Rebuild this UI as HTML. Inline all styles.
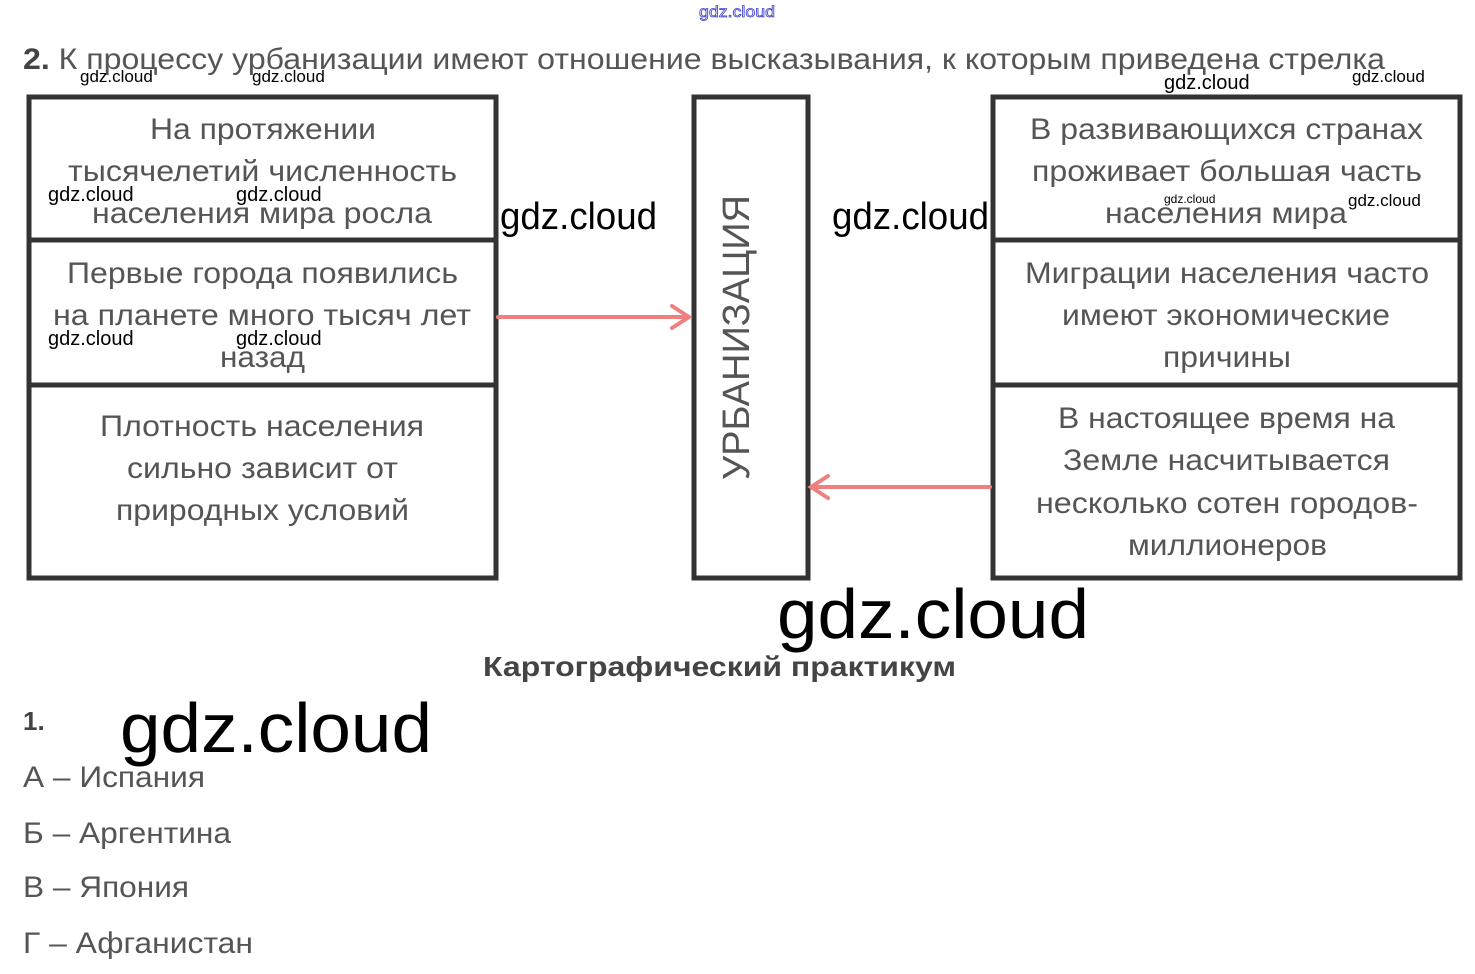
<!DOCTYPE html>
<html><head><meta charset="utf-8"><style>
html,body{margin:0;padding:0;background:#fff;width:1475px;height:974px;overflow:hidden}
svg{display:block}
.t{font-family:"Liberation Sans",sans-serif;fill:#555;font-size:30px}
.w{font-family:"Liberation Sans",sans-serif;fill:#000}
</style></head><body>
<svg width="1475" height="974" viewBox="0 0 1475 974">
<text x="699" y="17" font-family="Liberation Sans,sans-serif" font-size="16" fill="none" stroke="#44c" stroke-width="0.8" textLength="76" lengthAdjust="spacingAndGlyphs">gdz.cloud</text>
<text class="t" x="23" y="69" font-size="29" fill="#444" textLength="1362" lengthAdjust="spacingAndGlyphs"><tspan font-weight="bold" fill="#444">2.</tspan> К процессу урбанизации имеют отношение высказывания, к которым приведена стрелка</text>
<g fill="none" stroke="#333" stroke-width="5">
<rect x="29" y="97" width="467" height="481"/>
<line x1="29" y1="240" x2="496" y2="240"/>
<line x1="29" y1="385" x2="496" y2="385"/>
<rect x="694" y="97" width="114" height="481"/>
<rect x="993" y="97" width="467" height="481"/>
<line x1="993" y1="240" x2="1460" y2="240"/>
<line x1="993" y1="385" x2="1460" y2="385"/>
</g>
<g stroke="#f07f7f" stroke-width="4" fill="none" stroke-linecap="round">
<line x1="498" y1="317" x2="688" y2="317"/>
<polyline points="672,306 689,317 672,328"/>
<line x1="990" y1="487" x2="812" y2="487"/>
<polyline points="828,476 811,487 828,498"/>
</g>
<g class="t" lengthAdjust="spacingAndGlyphs">
<text x="150" y="139" textLength="226" lengthAdjust="spacingAndGlyphs">На протяжении</text>
<text x="68" y="181" textLength="389" lengthAdjust="spacingAndGlyphs">тысячелетий численность</text>
<text x="92" y="223" textLength="340" lengthAdjust="spacingAndGlyphs">населения мира росла</text>
<text x="67" y="283" textLength="391" lengthAdjust="spacingAndGlyphs">Первые города появились</text>
<text x="53" y="325" textLength="418" lengthAdjust="spacingAndGlyphs">на планете много тысяч лет</text>
<text x="220" y="367" textLength="85" lengthAdjust="spacingAndGlyphs">назад</text>
<text x="100" y="436" textLength="324" lengthAdjust="spacingAndGlyphs">Плотность населения</text>
<text x="127" y="478" textLength="271" lengthAdjust="spacingAndGlyphs">сильно зависит от</text>
<text x="116" y="520" textLength="293" lengthAdjust="spacingAndGlyphs">природных условий</text>
<text x="1030" y="139" textLength="393" lengthAdjust="spacingAndGlyphs">В развивающихся странах</text>
<text x="1032" y="181" textLength="390" lengthAdjust="spacingAndGlyphs">проживает большая часть</text>
<text x="1105" y="223" textLength="242" lengthAdjust="spacingAndGlyphs">населения мира</text>
<text x="1025" y="283" textLength="404" lengthAdjust="spacingAndGlyphs">Миграции населения часто</text>
<text x="1062" y="325" textLength="328" lengthAdjust="spacingAndGlyphs">имеют экономические</text>
<text x="1163" y="367" textLength="128" lengthAdjust="spacingAndGlyphs">причины</text>
<text x="1058" y="428" textLength="337" lengthAdjust="spacingAndGlyphs">В настоящее время на</text>
<text x="1063" y="470" textLength="327" lengthAdjust="spacingAndGlyphs">Земле насчитывается</text>
<text x="1036" y="513" textLength="382" lengthAdjust="spacingAndGlyphs">несколько сотен городов-</text>
<text x="1128" y="555" textLength="199" lengthAdjust="spacingAndGlyphs">миллионеров</text>
<text x="0" y="0" font-size="38" textLength="285" lengthAdjust="spacingAndGlyphs" transform="translate(749,480) rotate(-90)">УРБАНИЗАЦИЯ</text>
<text x="483" y="676" font-weight="bold" fill="#444" font-size="28" textLength="473" lengthAdjust="spacingAndGlyphs">Картографический практикум</text>
<text x="23" y="730" font-weight="bold" fill="#444" font-size="26">1.</text>
<text x="23" y="787" textLength="182" lengthAdjust="spacingAndGlyphs">А – Испания</text>
<text x="23" y="843" textLength="208" lengthAdjust="spacingAndGlyphs">Б – Аргентина</text>
<text x="23" y="897" textLength="166" lengthAdjust="spacingAndGlyphs">В – Япония</text>
<text x="23" y="953" textLength="230" lengthAdjust="spacingAndGlyphs">Г – Афганистан</text>
</g>
<g class="w">
<text x="80" y="82" font-size="17">gdz.cloud</text>
<text x="252" y="82" font-size="17">gdz.cloud</text>
<text x="1164" y="89" font-size="20">gdz.cloud</text>
<text x="1352" y="82" font-size="17">gdz.cloud</text>
<text x="48" y="201" font-size="20">gdz.cloud</text>
<text x="236" y="201" font-size="20">gdz.cloud</text>
<text x="48" y="345" font-size="20">gdz.cloud</text>
<text x="236" y="345" font-size="20">gdz.cloud</text>
<text x="1164" y="203" font-size="12">gdz.cloud</text>
<text x="1348" y="206" font-size="17">gdz.cloud</text>
<text x="500" y="229" font-size="38" textLength="157" lengthAdjust="spacingAndGlyphs">gdz.cloud</text>
<text x="832" y="229" font-size="38" textLength="157" lengthAdjust="spacingAndGlyphs">gdz.cloud</text>
<text x="777" y="638" font-size="70" textLength="312" lengthAdjust="spacingAndGlyphs">gdz.cloud</text>
<text x="120" y="752" font-size="70" textLength="312" lengthAdjust="spacingAndGlyphs">gdz.cloud</text>
</g>
</svg>
</body></html>
